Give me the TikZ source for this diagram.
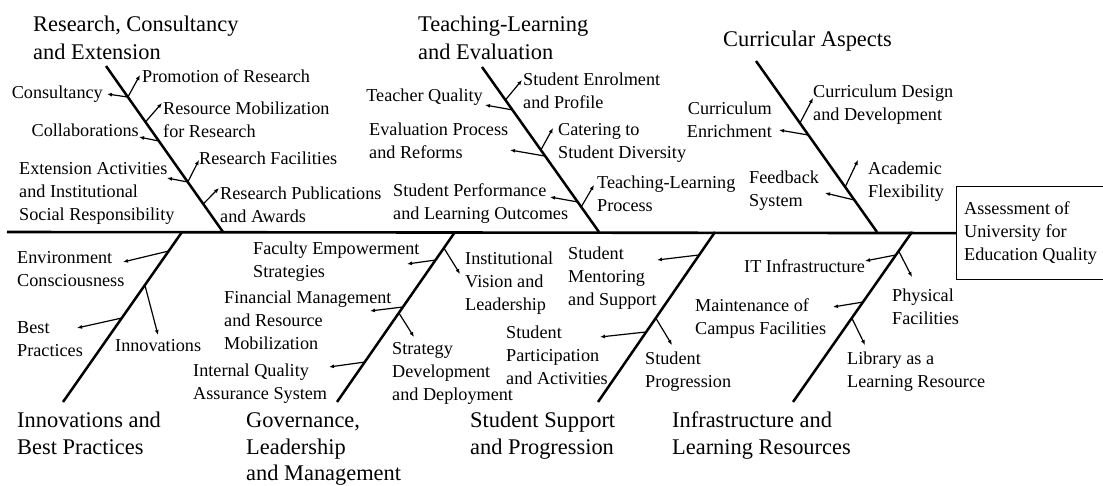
\documentclass[tikz,border=0pt]{standalone}
\usepackage{fontspec}
\setmainfont{Liberation Serif}
\usetikzlibrary{arrows.meta}
\begin{document}
\begin{tikzpicture}[x=1pt,y=-1pt,
  bone/.style={line width=2.5pt},
  spine/.style={line width=2.6pt},
  sub/.style={line width=1.2pt,-{Latex[length=5pt,width=4pt]}},
  lab/.style={font=\fontsize{18.2}{23}\selectfont, inner sep=0pt, align=left, anchor=north west, yshift=16.1pt},
  labr/.style={lab, align=right, anchor=north east},
  head/.style={font=\fontsize{22.4}{28}\selectfont, inner sep=0pt, align=left, anchor=north west, yshift=19.6pt},
  headb/.style={font=\fontsize{22.4}{26.8}\selectfont, inner sep=0pt, align=left, anchor=north west, yshift=18.76pt},
  goal/.style={draw, line width=1.2pt, font=\fontsize{18.2}{23}\selectfont, align=left, inner sep=0pt, minimum width=148pt, minimum height=93pt, anchor=north west}
]
\useasboundingbox (0,0) rectangle (1103,486);

% effect box and spine
\node[goal] (box) at (956,186) {Assessment of\\University for\\Education Quality};
\coordinate (sL) at (7,232);
\draw[spine] (sL) -- (box.west);

% bones
\coordinate (b1t) at (106,66);  \coordinate (b1b) at (223,232);
\coordinate (b2t) at (482,67);  \coordinate (b2b) at (599,232);
\coordinate (b3t) at (756,61);  \coordinate (b3b) at (877,232);
\coordinate (b4t) at (182,232); \coordinate (b4b) at (63,402);
\coordinate (b5t) at (455,232); \coordinate (b5b) at (337,402);
\coordinate (b6t) at (715,232); \coordinate (b6b) at (598,402);
\coordinate (b7t) at (912,232); \coordinate (b7b) at (793,402);
\foreach \i in {1,...,7} {\draw[bone] (b\i t) -- (b\i b);}

% points on bones
\path (b1t) -- (b1b) coordinate[pos=.187] (p1a) coordinate[pos=.337] (p1b)
  coordinate[pos=.452] (p1c) coordinate[pos=.699] (p1d) coordinate[pos=.831] (p1e);
\path (b2t) -- (b2b) coordinate[pos=.20] (p2a) coordinate[pos=.26] (p2b)
  coordinate[pos=.503] (p2c) coordinate[pos=.54] (p2d) coordinate[pos=.818] (p2e) coordinate[pos=.848] (p2f);
\path (b3t) -- (b3b) coordinate[pos=.363] (p3a) coordinate[pos=.433] (p3b)
  coordinate[pos=.737] (p3c) coordinate[pos=.813] (p3d);
\path (b4t) -- (b4b) coordinate[pos=.112] (p4a) coordinate[pos=.312] (p4b) coordinate[pos=.506] (p4c);
\path (b5t) -- (b5b) coordinate[pos=.094] (p5a) coordinate[pos=.165] (p5b)
  coordinate[pos=.441] (p5c) coordinate[pos=.476] (p5d) coordinate[pos=.765] (p5e);
\path (b6t) -- (b6b) coordinate[pos=.135] (p6a) coordinate[pos=.506] (p6b) coordinate[pos=.588] (p6c);
\path (b7t) -- (b7b) coordinate[pos=.112] (p7a) coordinate[pos=.135] (p7b)
  coordinate[pos=.412] (p7c) coordinate[pos=.506] (p7d);

% arrow tips
\coordinate (e_cons) at (107,94);  \coordinate (e_prom) at (140,75);
\coordinate (e_res) at (162,103);  \coordinate (e_col) at (139,137);
\coordinate (e_ext) at (167,178);  \coordinate (e_fac) at (199,160);
\coordinate (e_pub) at (219,188);
\coordinate (e_enr) at (522,80);   \coordinate (e_tq) at (485,105);
\coordinate (e_cat) at (553,128);  \coordinate (e_eval) at (510,150);
\coordinate (e_perf) at (550,197); \coordinate (e_tlp) at (594,185);
\coordinate (e_cdd) at (813,98);   \coordinate (e_ce) at (779,130);
\coordinate (e_af) at (858,160);   \coordinate (e_fs) at (825,193);
\coordinate (e_env) at (123,262);  \coordinate (e_inn) at (158,335);
\coordinate (e_best) at (77,328);
\coordinate (e_ivl) at (460,274);  \coordinate (e_fe) at (407,264);
\coordinate (e_fm) at (370,311);   \coordinate (e_sdd) at (414,337);
\coordinate (e_iq) at (329,367);
\coordinate (e_sms) at (657,260);  \coordinate (e_sp) at (672,345);
\coordinate (e_spa) at (600,337);
\coordinate (e_pf) at (912,277);   \coordinate (e_it) at (865,261);
\coordinate (e_mcf) at (833,307);  \coordinate (e_llr) at (865,345);

\draw[sub] (p1a) -- (e_cons); \draw[sub] (p1a) -- (e_prom);
\draw[sub] (p1b) -- (e_res);  \draw[sub] (p1c) -- (e_col);
\draw[sub] (p1d) -- (e_ext);  \draw[sub] (p1d) -- (e_fac);
\draw[sub] (p1e) -- (e_pub);
\draw[sub] (p2a) -- (e_enr);  \draw[sub] (p2b) -- (e_tq);
\draw[sub] (p2c) -- (e_cat);  \draw[sub] (p2d) -- (e_eval);
\draw[sub] (p2e) -- (e_perf); \draw[sub] (p2f) -- (e_tlp);
\draw[sub] (p3a) -- (e_cdd);  \draw[sub] (p3b) -- (e_ce);
\draw[sub] (p3c) -- (e_af);   \draw[sub] (p3d) -- (e_fs);
\draw[sub] (p4a) -- (e_env);  \draw[sub] (p4b) -- (e_inn);
\draw[sub] (p4c) -- (e_best);
\draw[sub] (p5a) -- (e_ivl);  \draw[sub] (p5b) -- (e_fe);
\draw[sub] (p5c) -- (e_fm);   \draw[sub] (p5d) -- (e_sdd);
\draw[sub] (p5e) -- (e_iq);
\draw[sub] (p6a) -- (e_sms);  \draw[sub] (p6b) -- (e_sp);
\draw[sub] (p6c) -- (e_spa);
\draw[sub] (p7a) -- (e_pf);   \draw[sub] (p7b) -- (e_it);
\draw[sub] (p7c) -- (e_mcf);  \draw[sub] (p7d) -- (e_llr);

% headings
\node[head] (hRCE) at (33,31) {\strut Research, Consultancy\\and Extension};
\node[head] (hTLE) at (418,31) {\strut Teaching-Learning\\and Evaluation};
\node[head] (hCA) at (723,46) {\strut Curricular Aspects};
\node[headb] (hIBP) at (17,427) {\strut Innovations and\\Best Practices};
\node[headb] (hGLM) at (246,427) {\strut Governance,\\Leadership\\and Management};
\node[headb] (hSSP) at (470,427) {\strut Student Support\\and Progression};
\node[headb] (hILR) at (672,427) {\strut Infrastructure and\\Learning Resources};

% labels: research
\node[lab] (lProm) at (142,82.5) {\strut Promotion of Research};
\node[labr] (lCons) at (103,98) {\strut Consultancy};
\node[lab] (lRes) at (163,114.5) {\strut Resource Mobilization\\for Research};
\node[labr] (lCol) at (139,136.5) {\strut Collaborations};
\node[lab] (lFac) at (199,164.5) {\strut Research Facilities};
\node[lab] (lExt) at (19,174.5) {\strut Extension Activities\\and Institutional\\Social Responsibility};
\node[lab] (lPub) at (220,199.5) {\strut Research Publications\\and Awards};
% teaching
\node[labr] (lTQ) at (483,101.5) {\strut Teacher Quality};
\node[lab] (lEnr) at (523,85.5) {\strut Student Enrolment\\and Profile};
\node[lab] (lEval) at (369,135.5) {\strut Evaluation Process\\and Reforms};
\node[lab] (lCat) at (558,135.5) {\strut Catering to\\Student Diversity};
\node[lab] (lPerf) at (393,196.5) {\strut Student Performance\\and Learning Outcomes};
\node[lab] (lTLP) at (597,188.5) {\strut Teaching-Learning\\Process};
% curricular
\node[labr] (lCE) at (772,114.5) {\strut Curriculum\\Enrichment};
\node[lab] (lCDD) at (813,97.5) {\strut Curriculum Design\\and Development};
\node[lab] (lFS) at (749,183.5) {\strut Feedback\\System};
\node[lab] (lAF) at (868,174.5) {\strut Academic\\Flexibility};
% innovations
\node[lab] (lEnv) at (17,263.5) {\strut Environment\\Consciousness};
\node[lab] (lBest) at (17,333.5) {\strut Best\\Practices};
\node[lab] (lInn) at (115,351.5) {\strut Innovations};
% governance
\node[lab] (lFE) at (253,254.5) {\strut Faculty Empowerment\\Strategies};
\node[lab] (lFM) at (224,303.5) {\strut Financial Management\\and Resource\\Mobilization};
\node[lab] (lIQ) at (193,376.5) {\strut Internal Quality\\Assurance System};
\node[lab] (lIVL) at (465,264.5) {\strut Institutional\\Vision and\\Leadership};
\node[lab] (lSDD) at (392,354.5) {\strut Strategy\\Development\\and Deployment};
% student support
\node[lab] (lSMS) at (568,259.5) {\strut Student\\Mentoring\\and Support};
\node[lab] (lSPA) at (506,338.5) {\strut Student\\Participation\\and Activities};
\node[lab] (lSP) at (645,364.5) {\strut Student\\Progression};
% infrastructure
\node[lab] (lIT) at (744,272.5) {\strut IT Infrastructure};
\node[lab] (lPF) at (892,301.5) {\strut Physical\\Facilities};
\node[lab] (lMCF) at (695,311.5) {\strut Maintenance of\\Campus Facilities};
\node[lab] (lLLR) at (847,364.5) {\strut Library as a\\Learning Resource};
\end{tikzpicture}
\end{document}
